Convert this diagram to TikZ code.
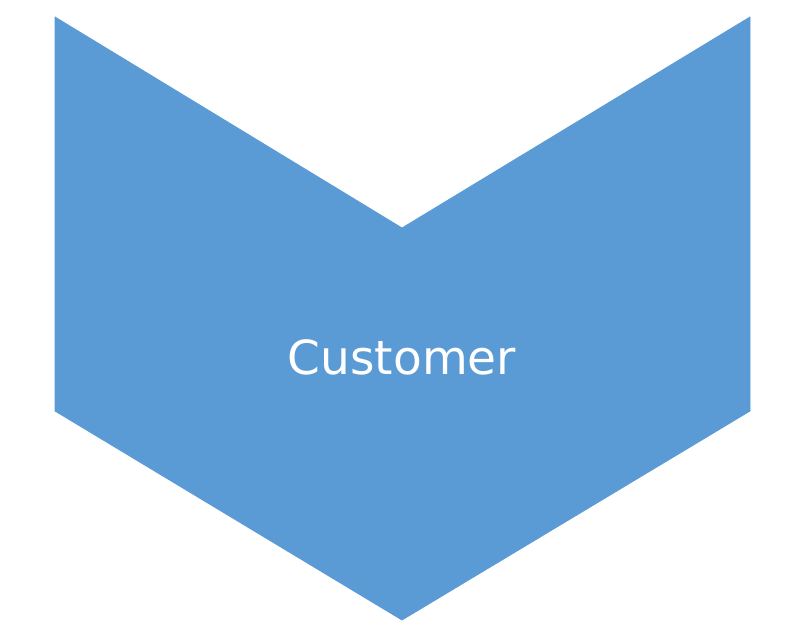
\documentclass[tikz,border=0pt]{standalone}
\usepackage{fontspec}
\setmainfont{DejaVu Sans}
\definecolor{chev}{HTML}{5B9BD5}
\begin{document}
\begin{tikzpicture}[x=1pt,y=-1pt,
  chevshape/.style={fill=chev,draw=chev,line width=0.8pt,line join=miter},
  labeltext/.style={text=white,font=\fontsize{47}{56}\selectfont,inner sep=0pt}]
\useasboundingbox (0,0) rectangle (800,640);
\coordinate (tl) at (55,17);
\coordinate (notch) at (402,228);
\coordinate (tr) at (750,17);
\coordinate (br) at (750,411);
\coordinate (tip) at (402,620);
\coordinate (bl) at (55,411);
\draw[chevshape] (tl) -- (notch) -- (tr) -- (br) -- (tip) -- (bl) -- cycle;
\node[labeltext,anchor=base] (lbl) at (402,374) {Customer};
\end{tikzpicture}
\end{document}
